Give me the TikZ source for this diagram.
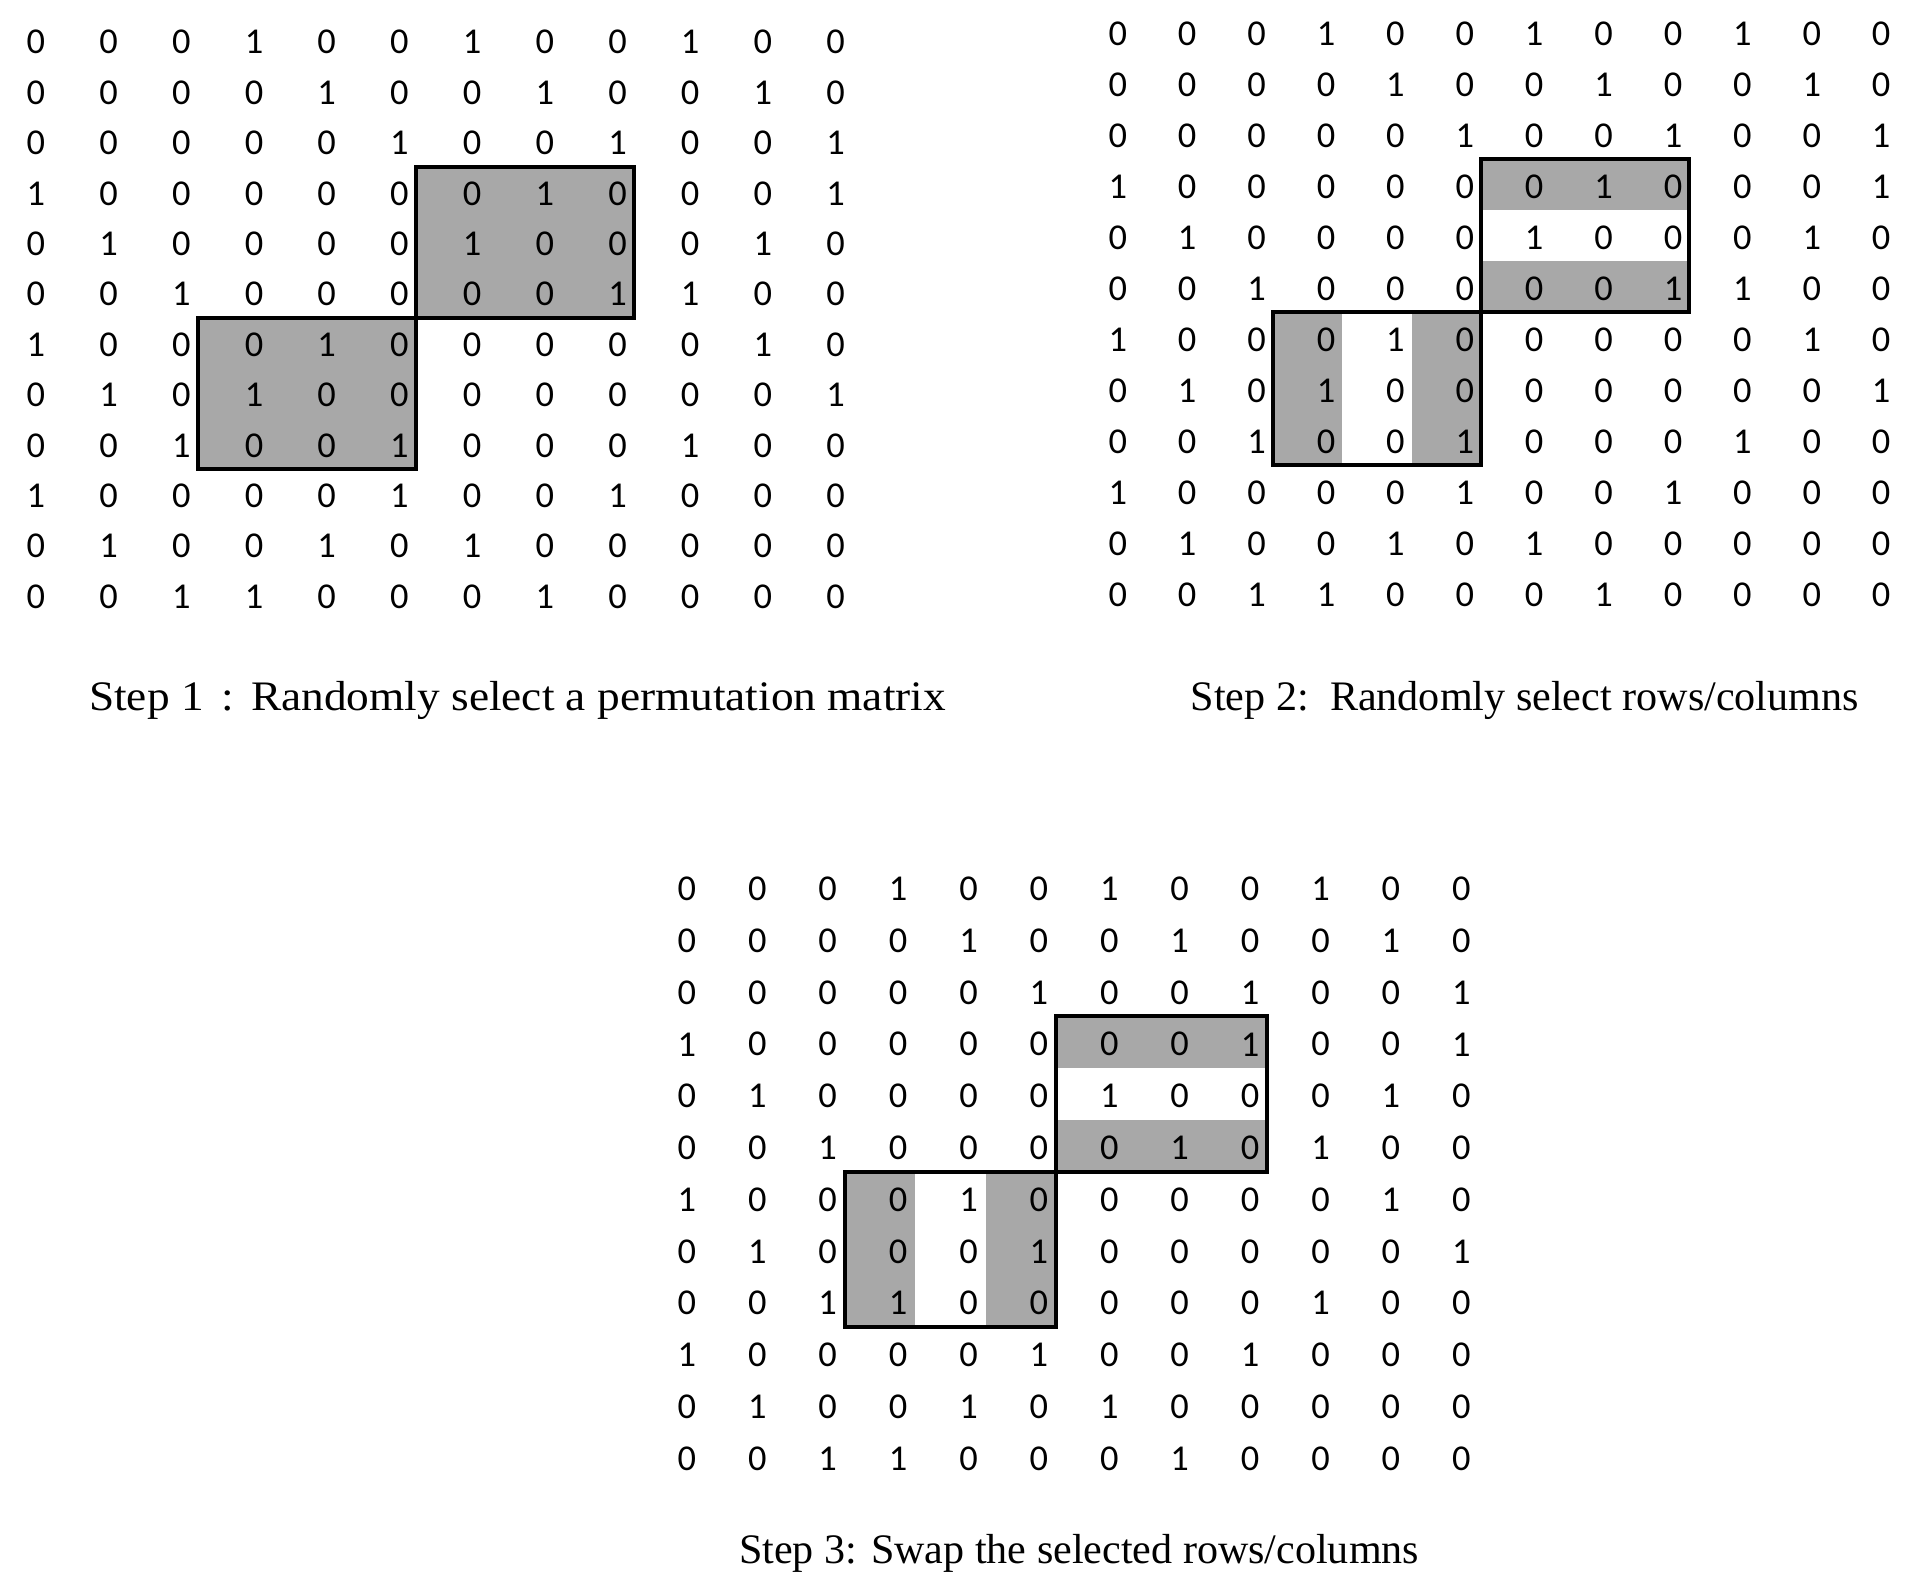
\documentclass[tikz,border=0pt]{standalone}
\usepackage{fontspec}
\usepackage{graphicx}
\setmainfont{Liberation Serif}
\newfontfamily\digitfont{Carlito}

\tikzset{
  digit/.style={inner sep=0pt, anchor=center, text=black,
    font=\digitfont\fontsize{9.1}{10}\selectfont},
  captiontext/.style={inner sep=0pt, anchor=base west, text=black,
    font=\fontsize{10.5}{12}\selectfont},
  selbox/.style={draw=black, line width=1pt},
  shadecell/.style={fill=black!34, draw=none},
}

% #1 name, #2 x0, #3 dx, #4 y0, #5 dy, #6 rows
\newcommand{\putmatrix}[6]{%
  \foreach \row [count=\i] in {#6} {
    \foreach \v [count=\j] in \row {
      \node[digit] (#1-\i-\j) at ({#2+(\j-1)*#3},{#4+(\i-1)*#5}) {\v};
    }
  }
}
% grid edge coordinates: (#1-g-i-j) = below row i, right of column j
% #1 name, #2 x0, #3 dx, #4 y0, #5 dy, #6 xoff, #7 yoff
\newcommand{\putedges}[7]{%
  \foreach \i in {3,...,9} {
    \foreach \j in {3,...,9} {
      \coordinate (#1-g-\i-\j) at ({#2+(\j-1)*#3+#6},{#4+(\i-1)*#5+#5/2+#7});
    }
  }
}

\begin{document}
\begin{tikzpicture}[x=0.25pt,y=-0.25pt]
\useasboundingbox (0,0) rectangle (1917,1588);

% ---------- edges ----------
\putedges{A}{35.9}{72.7}{42.2}{50.4}{16.5}{-1.5}
\putedges{B}{1117.8}{69.4}{33.7}{51.0}{16.3}{-2}
\putedges{C}{686.9}{70.4}{889}{51.76}{17}{-2}

% ---------- shading ----------
% Step 1: full blocks
\fill[shadecell] (A-g-3-6) rectangle (A-g-6-9);
\fill[shadecell] (A-g-6-3) rectangle (A-g-9-6);
% Step 2: stripes
\fill[shadecell] (B-g-3-6) rectangle (B-g-4-9);
\fill[shadecell] (B-g-5-6) rectangle (B-g-6-9);
\fill[shadecell] (B-g-6-3) rectangle (B-g-9-4);
\fill[shadecell] (B-g-6-5) rectangle (B-g-9-6);
% Step 3: stripes
\fill[shadecell] (C-g-3-6) rectangle (C-g-4-9);
\fill[shadecell] (C-g-5-6) rectangle (C-g-6-9);
\fill[shadecell] (C-g-6-3) rectangle (C-g-9-4);
\fill[shadecell] (C-g-6-5) rectangle (C-g-9-6);

% ---------- matrices ----------
\putmatrix{A}{35.9}{72.7}{42.2}{50.4}{
 {0,0,0,1,0,0,1,0,0,1,0,0},
 {0,0,0,0,1,0,0,1,0,0,1,0},
 {0,0,0,0,0,1,0,0,1,0,0,1},
 {1,0,0,0,0,0,0,1,0,0,0,1},
 {0,1,0,0,0,0,1,0,0,0,1,0},
 {0,0,1,0,0,0,0,0,1,1,0,0},
 {1,0,0,0,1,0,0,0,0,0,1,0},
 {0,1,0,1,0,0,0,0,0,0,0,1},
 {0,0,1,0,0,1,0,0,0,1,0,0},
 {1,0,0,0,0,1,0,0,1,0,0,0},
 {0,1,0,0,1,0,1,0,0,0,0,0},
 {0,0,1,1,0,0,0,1,0,0,0,0}}

\putmatrix{B}{1117.8}{69.4}{33.7}{51.0}{
 {0,0,0,1,0,0,1,0,0,1,0,0},
 {0,0,0,0,1,0,0,1,0,0,1,0},
 {0,0,0,0,0,1,0,0,1,0,0,1},
 {1,0,0,0,0,0,0,1,0,0,0,1},
 {0,1,0,0,0,0,1,0,0,0,1,0},
 {0,0,1,0,0,0,0,0,1,1,0,0},
 {1,0,0,0,1,0,0,0,0,0,1,0},
 {0,1,0,1,0,0,0,0,0,0,0,1},
 {0,0,1,0,0,1,0,0,0,1,0,0},
 {1,0,0,0,0,1,0,0,1,0,0,0},
 {0,1,0,0,1,0,1,0,0,0,0,0},
 {0,0,1,1,0,0,0,1,0,0,0,0}}

\putmatrix{C}{686.9}{70.4}{889}{51.76}{
 {0,0,0,1,0,0,1,0,0,1,0,0},
 {0,0,0,0,1,0,0,1,0,0,1,0},
 {0,0,0,0,0,1,0,0,1,0,0,1},
 {1,0,0,0,0,0,0,0,1,0,0,1},
 {0,1,0,0,0,0,1,0,0,0,1,0},
 {0,0,1,0,0,0,0,1,0,1,0,0},
 {1,0,0,0,1,0,0,0,0,0,1,0},
 {0,1,0,0,0,1,0,0,0,0,0,1},
 {0,0,1,1,0,0,0,0,0,1,0,0},
 {1,0,0,0,0,1,0,0,1,0,0,0},
 {0,1,0,0,1,0,1,0,0,0,0,0},
 {0,0,1,1,0,0,0,1,0,0,0,0}}

% ---------- selection borders ----------
\foreach \m in {A,B,C} {
  \draw[selbox] (\m-g-3-6) rectangle (\m-g-6-9);
  \draw[selbox] (\m-g-6-3) rectangle (\m-g-9-6);
}

% ---------- captions ----------
\node[captiontext] (cap1) at (88.3,710)
  {\resizebox{214.2pt}{\height}{Step 1\makebox[1.05em]{:}Randomly select a permutation matrix}};
\node[captiontext] (cap2) at (1190,710)
  {\resizebox{167pt}{\height}{Step 2:\ \ Randomly select rows/columns}};
\node[captiontext] (cap3) at (738.3,1563.3)
  {\resizebox{170pt}{\height}{Step 3: Swap the selected rows/columns}};
\end{tikzpicture}
\end{document}
